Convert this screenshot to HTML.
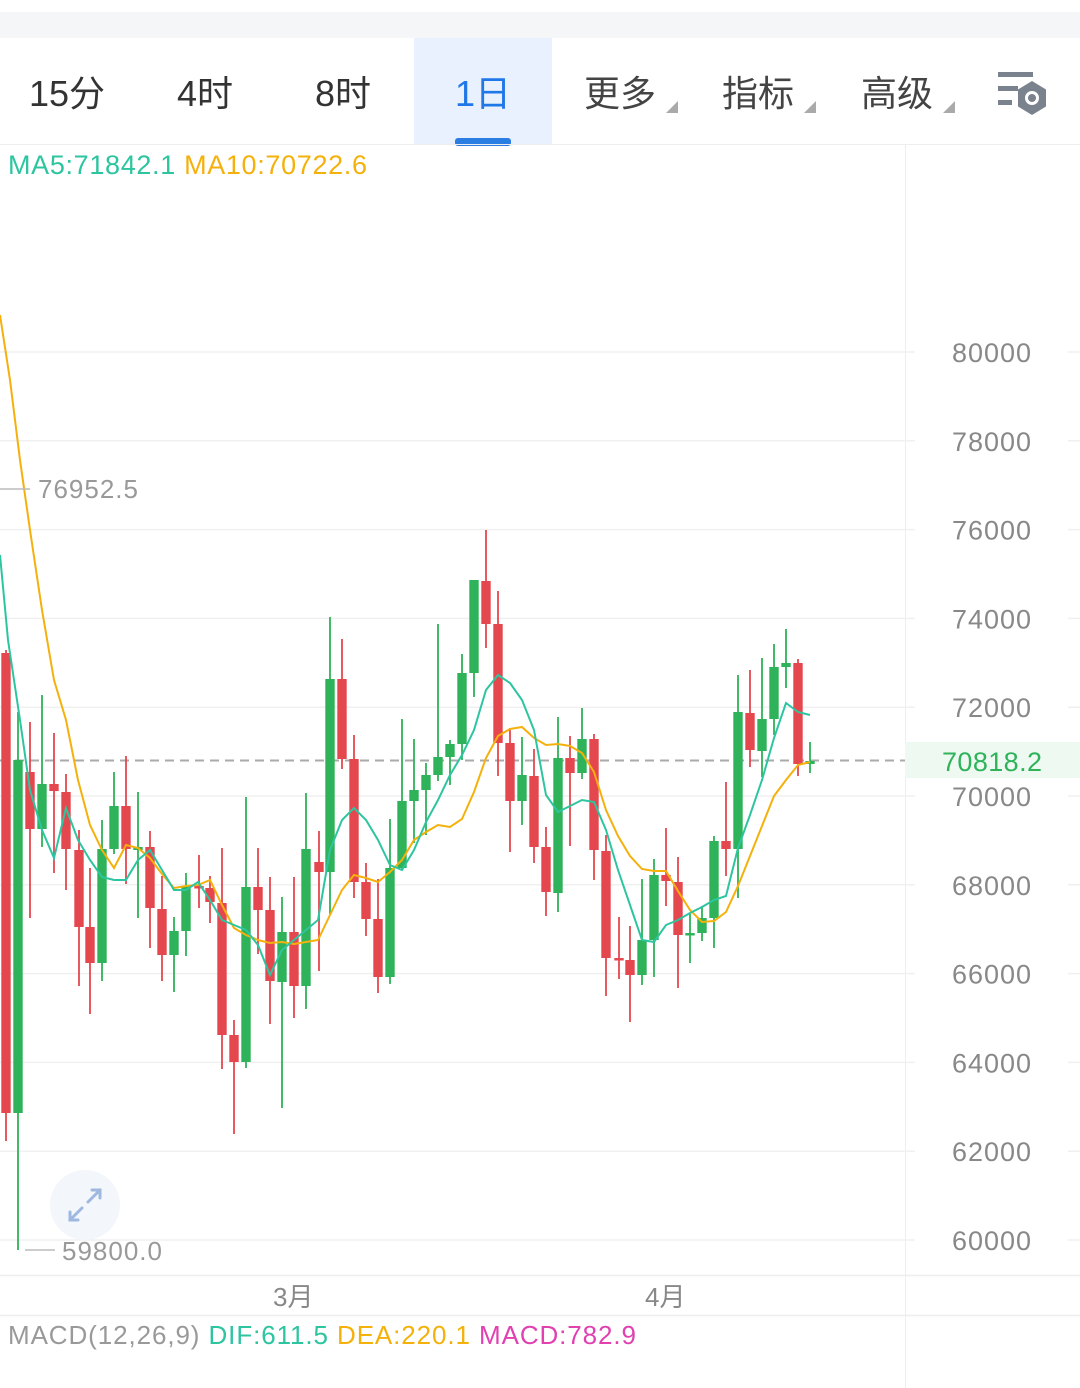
<!DOCTYPE html>
<html><head><meta charset="utf-8"><style>
html,body{margin:0;padding:0;background:#fff;}
body{width:1080px;height:1388px;overflow:hidden;position:relative;font-family:"Liberation Sans","Noto Sans CJK SC",sans-serif;}
svg{position:absolute;left:0;top:0;}
</style></head><body>
<svg id="s" width="1080" height="1388" viewBox="0 0 1080 1388" xmlns="http://www.w3.org/2000/svg">
<rect x="0" y="12" width="1080" height="26" fill="#f5f6f8"/>
<rect x="414" y="38" width="138" height="106" fill="#e8f1fd"/>
<rect x="455" y="138" width="56" height="8" rx="3" fill="#2a7de1"/>
<g font-size="36" fill="#333" font-family="Liberation Sans, Noto Sans CJK SC, sans-serif">
<text x="29" y="106">15分</text>
<text x="177" y="106">4时</text>
<text x="315" y="106">8时</text>
<text x="455" y="106" fill="#1f77e8">1日</text>
<text x="584" y="106" fill="#444">更多</text>
<text x="722" y="106" fill="#444">指标</text>
<text x="861" y="106" fill="#444">高级</text>
</g>
<g fill="#aaa"><polygon points="678,101 678,113 666,113"/><polygon points="816,101 816,113 804,113"/><polygon points="955,101 955,113 943,113"/></g>
<g fill="#7a828e"><rect x="998" y="72" width="35" height="5"/><rect x="998" y="86" width="20" height="5"/><rect x="998" y="100" width="14" height="5"/>
<polygon points="1032,81 1046,89.5 1046,106.5 1032,115 1018,106.5 1018,89.5"/></g>
<circle cx="1032" cy="98" r="7" fill="#fff"/><circle cx="1032" cy="98" r="4" fill="#7a828e"/>
<line x1="0" y1="144.5" x2="1080" y2="144.5" stroke="#eee"/>
<line x1="905.5" y1="144" x2="905.5" y2="1388" stroke="#eee"/>
<text x="8" y="174" font-size="27" fill="#2dc5a0" textLength="359" lengthAdjust="spacing">MA5:71842.1 <tspan fill="#f5b10b">MA10:70722.6</tspan></text>
<g id="grid" stroke="#f0f0f0" stroke-width="1.5"></g>
<rect x="905" y="742" width="175" height="36" fill="#eef9f1"/>
<g font-size="27" fill="#888" id="yl"></g>
<text x="942" y="771" font-size="27" fill="#2fb35a" textLength="100" lengthAdjust="spacing">70818.2</text>
<line x1="0" y1="760.5" x2="905" y2="760.5" stroke="#aaa" stroke-width="2" stroke-dasharray="9,6"/>
<g id="c"></g>
<polyline id="ma10" fill="none" stroke="#f5b10b" stroke-width="2"/>
<polyline id="ma5" fill="none" stroke="#2dc5a0" stroke-width="2"/>
<line x1="0" y1="489" x2="30" y2="489" stroke="#bbb" stroke-width="1.5"/>
<text x="38" y="498" font-size="26" fill="#999" textLength="100" lengthAdjust="spacing">76952.5</text>
<line x1="25" y1="1250" x2="55" y2="1250" stroke="#bbb" stroke-width="1.5"/>
<text x="62" y="1260" font-size="26" fill="#999" textLength="100" lengthAdjust="spacing">59800.0</text>
<circle cx="85" cy="1205" r="35" fill="#f3f6fb"/>
<g stroke="#9fb8e0" stroke-width="3" fill="none" stroke-linecap="round"><path d="M88,1202 L100,1190 M92,1190 H100 V1198"/><path d="M82,1208 L70,1220 M70,1212 V1220 H78"/></g>
<line x1="0" y1="1275.5" x2="1080" y2="1275.5" stroke="#eee" stroke-width="1.5"/>
<line x1="0" y1="1315.5" x2="1080" y2="1315.5" stroke="#eee" stroke-width="1.5"/>
<text x="273" y="1306" font-size="26" fill="#888">3月</text>
<text x="645" y="1306" font-size="26" fill="#888">4月</text>
<text x="8" y="1344" font-size="26" fill="#999" textLength="628" lengthAdjust="spacing">MACD(12,26,9) <tspan fill="#2dc5a0">DIF:611.5</tspan> <tspan fill="#f5b10b">DEA:220.1</tspan> <tspan fill="#e040b0">MACD:782.9</tspan></text>
</svg>
<script>
var NS="http://www.w3.org/2000/svg";
function el(p,t,a){var e=document.createElementNS(NS,t);for(var k in a)e.setAttribute(k,a[k]);p.appendChild(e);return e;}
var g=document.getElementById('grid'),yl=document.getElementById('yl');
var vals=[80000,78000,76000,74000,72000,70000,68000,66000,64000,62000,60000];
vals.forEach(function(v,i){var y=352+i*88.8;el(g,'line',{x1:0,y1:y,x2:915,y2:y});el(g,'line',{x1:1068,y1:y,x2:1080,y2:y});
var t=el(yl,'text',{x:952,y:y+10,textLength:79,lengthAdjust:'spacing'});t.textContent=v;});
var C=[[6,653,1113,650,1141,'r'],[18,760,1113,712,1250,'g'],[30,772,829,722,918,'r'],[42,784,829,695,847,'g'],[54,784,791,733,873,'r'],[66,792,849,774,890,'r'],[79,850,927,830,986,'r'],[90,927,963,868,1014,'r'],[102,849,963,820,981,'g'],[114,806,849,772,854,'g'],[126,806,849,756,884,'r'],[138,847,850,792,918,'g'],[150,847,908,831,948,'r'],[162,909,955,876,981,'r'],[174,931,955,917,992,'g'],[186,886,931,873,956,'g'],[199,886,888,855,908,'r'],[210,888,902,876,923,'r'],[222,903,1035,848,1069,'r'],[234,1035,1062,1020,1134,'r'],[246,887,1062,797,1068,'g'],[258,887,910,848,954,'r'],[270,910,981,877,1024,'r'],
[282,932,982,897,1108,'g'],[294,932,986,877,1018,'r'],[306,849,986,793,1009,'g'],[319,862,872,831,971,'r'],[330,679,872,617,914,'g'],[342,679,759,639,769,'r'],[354,759,882,735,898,'r'],[366,882,919,863,936,'r'],[378,919,977,879,993,'r'],[390,868,977,819,984,'g'],[402,801,868,719,870,'g'],[414,790,801,739,843,'g'],[426,775,790,763,835,'g'],[438,757,775,624,781,'g'],[450,744,757,740,785,'g'],[462,673,744,654,760,'g'],[474,580,673,580,697,'g'],[486,581,624,530,648,'r'],[498,624,743,591,776,'r'],[510,743,801,728,852,'r'],[522,775,801,737,825,'g'],[534,776,847,749,863,'r'],[546,847,892,827,916,'r'],
[558,758,893,717,912,'g'],[570,758,773,736,846,'r'],[582,739,773,708,779,'g'],[594,739,850,734,880,'r'],[606,851,958,835,996,'r'],[619,958,960,917,979,'r'],[630,960,975,926,1022,'r'],[642,940,975,879,985,'g'],[654,875,940,859,977,'g'],[666,875,881,828,906,'r'],[678,882,935,857,988,'r'],[690,933,935,914,963,'g'],[702,918,933,906,941,'g'],[714,841,918,836,948,'g'],[726,841,849,782,876,'r'],[738,712,849,675,898,'g'],[750,713,750,670,767,'r'],[762,719,751,658,777,'g'],[774,667,719,644,735,'g'],[786,663,667,629,688,'g'],[798,663,764,659,776,'r'],[810,761,764,742,773,'g']];
var cg=document.getElementById('c');
C.forEach(function(d){var col=d[5]=='r'?'#e5474f':'#2fb35a';
el(cg,'rect',{x:d[0]-0.9,y:d[3],width:1.8,height:d[4]-d[3],fill:col});
el(cg,'rect',{x:d[0]-4.7,y:d[1],width:9.4,height:Math.max(2.5,d[2]-d[1]),fill:col});});
var m5="0,555 8,640 20,720 30,790 42,830 54,858 66,808 78,840 90,860 102,877 114,880 126,880 138,860 150,850 162,870 174,890 186,890 198,882 210,900 222,920 234,925 246,930 258,945 270,975 282,950 294,940 306,930 318,920 330,850 342,820 354,808 366,820 378,840 390,865 402,870 414,850 426,822 438,800 450,775 462,755 474,730 486,690 498,675 510,683 522,700 534,730 546,795 558,812 570,806 582,800 594,802 606,830 618,870 630,905 642,940 654,942 666,925 678,920 690,913 702,907 714,900 726,896 738,848 750,815 762,780 774,738 786,703 798,712 810,715";
var m10="0,315 10,380 20,460 30,530 42,610 54,680 66,720 78,780 90,825 102,850 114,868 126,845 138,848 150,858 162,874 174,888 186,886 198,885 210,880 222,905 234,928 246,935 258,940 270,943 282,942 294,944 306,942 318,940 330,915 342,890 354,875 366,878 378,882 390,872 402,860 414,840 426,832 438,825 450,827 462,819 474,792 486,758 498,736 510,729 522,727 534,738 546,745 558,744 570,746 582,753 594,772 606,810 618,836 630,856 642,869 654,871 666,871 678,891 690,910 702,922 714,921 726,912 738,886 750,856 762,826 774,796 786,780 798,765 810,762";
document.getElementById('ma5').setAttribute('points',m5);
document.getElementById('ma10').setAttribute('points',m10);
</script>
</body></html>
